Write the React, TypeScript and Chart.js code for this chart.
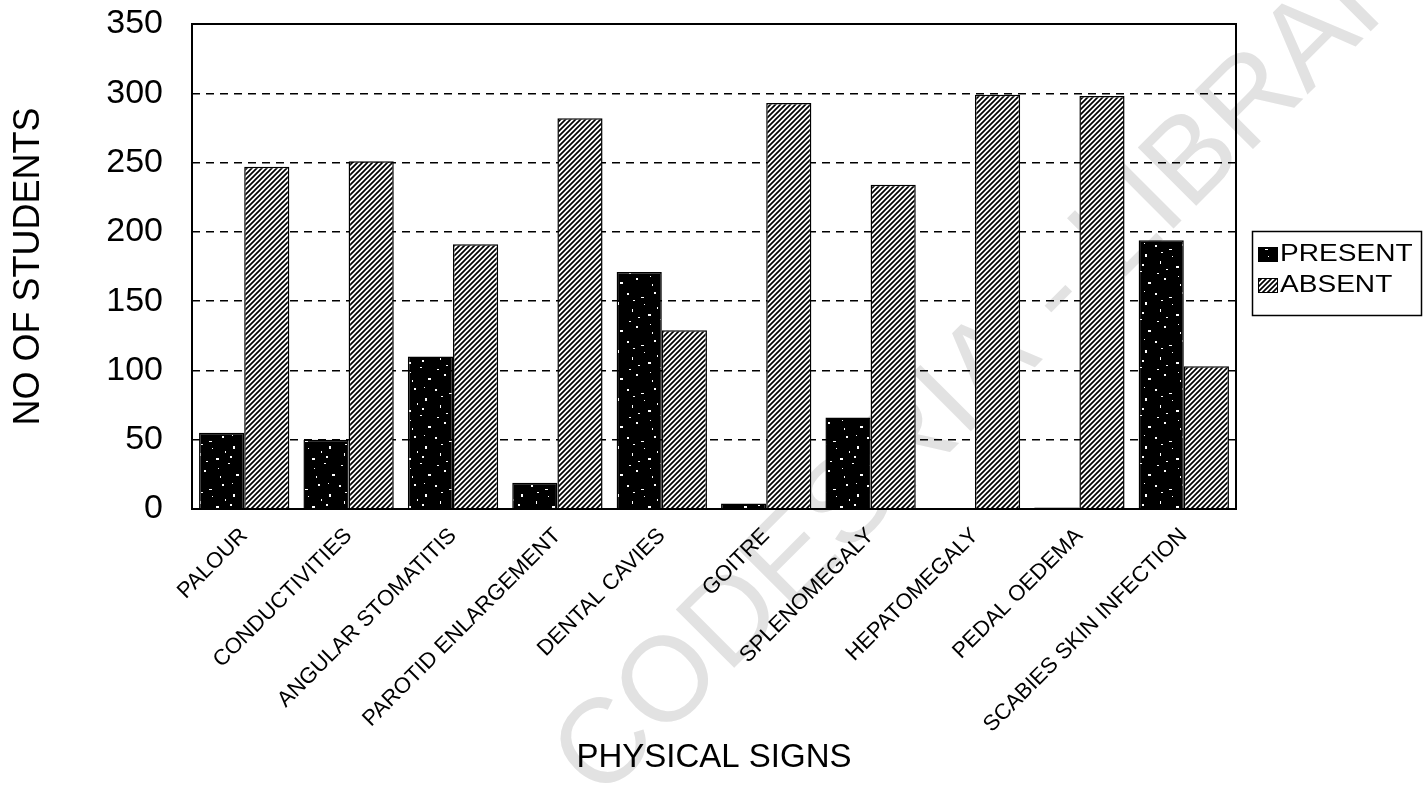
import React, { useEffect, useRef } from "react";
import { Chart, registerables } from "chart.js";

Chart.register(...registerables);

const categories = [
  "PALOUR",
  "CONDUCTIVITIES",
  "ANGULAR STOMATITIS",
  "PAROTID ENLARGEMENT",
  "DENTAL CAVIES",
  "GOITRE",
  "SPLENOMEGALY",
  "HEPATOMEGALY",
  "PEDAL OEDEMA",
  "SCABIES SKIN INFECTION",
];
const presentValues = [55, 50, 110, 19, 171, 4, 66, 0, 1, 194];
const absentValues = [247, 251, 191, 282, 129, 293, 234, 299, 298, 103];
const seriesNames = ["PRESENT", "ABSENT"];
const yAxisTitle = "NO OF STUDENTS";
const xAxisTitle = "PHYSICAL SIGNS";
const watermarkText = "CODESRIA - LIBRARY";
const yMin = 0;
const yMax = 350;
const yStep = 50;

const FONT = "'Liberation Sans', Arial, Helvetica, sans-serif";

// texture specks (white flecks on black fill) - purely decorative texture
const specks: number[][] = [
  [3, 5, 2, 2], [17, 9, 3, 1], [30, 4, 2, 2], [41, 14, 2, 3], [8, 21, 1, 3],
  [24, 26, 3, 2], [36, 31, 2, 1], [12, 38, 2, 2], [44, 42, 3, 2], [28, 44, 1, 2],
  [5, 33, 2, 1], [20, 16, 1, 1], [33, 19, 1, 2], [14, 29, 2, 1], [40, 3, 1, 1],
  [9, 12, 2, 1], [26, 36, 1, 1], [38, 24, 2, 2],
];

function makeHatch(): CanvasPattern {
  const c = document.createElement("canvas");
  c.width = 5;
  c.height = 5;
  const g = c.getContext("2d")!;
  g.fillStyle = "#fff";
  g.fillRect(0, 0, 5, 5);
  g.strokeStyle = "#000";
  g.lineWidth = 1.7;
  g.beginPath();
  g.moveTo(-1, 6);
  g.lineTo(6, -1);
  g.moveTo(-1, 1);
  g.lineTo(1, -1);
  g.moveTo(4, 6);
  g.lineTo(6, 4);
  g.stroke();
  return g.createPattern(c, "repeat")!;
}

function makeSpeckle(): CanvasPattern {
  const c = document.createElement("canvas");
  c.width = 48;
  c.height = 48;
  const g = c.getContext("2d")!;
  g.fillStyle = "#000";
  g.fillRect(0, 0, 48, 48);
  g.fillStyle = "#fff";
  specks.forEach(([x, y, w, h]) => g.fillRect(x, y, w, h));
  return g.createPattern(c, "repeat")!;
}

export default function App() {
  const ref = useRef<HTMLCanvasElement>(null);

  useEffect(() => {
    const canvas = ref.current!;
    const hatch = makeHatch();
    const speckle = makeSpeckle();

    const watermarkPlugin = {
      id: "watermark",
      beforeDraw(chart: any) {
        const ctx = chart.ctx as CanvasRenderingContext2D;
        ctx.save();
        ctx.translate(600, 802);
        ctx.rotate(-Math.PI / 4);
        ctx.font = `120px ${FONT}`;
        ctx.fillStyle = "#e2e2e2";
        ctx.textAlign = "left";
        ctx.textBaseline = "alphabetic";
        ctx.fillText(watermarkText, 0, 0);
        ctx.restore();
      },
    };

    const framePlugin = {
      id: "frame",
      afterDatasetsDraw(chart: any) {
        const { ctx, chartArea } = chart;
        ctx.save();
        ctx.strokeStyle = "#000";
        ctx.lineWidth = 2;
        ctx.setLineDash([]);
        ctx.strokeRect(
          chartArea.left,
          chartArea.top,
          chartArea.right - chartArea.left,
          chartArea.bottom - chartArea.top
        );
        ctx.restore();
      },
    };

    const legendPlugin = {
      id: "customLegend",
      afterDraw(chart: any) {
        const ctx = chart.ctx as CanvasRenderingContext2D;
        const boxX = 1252;
        const boxY = 231;
        const boxW = 169;
        const boxH = 84;
        ctx.save();
        ctx.strokeStyle = "#000";
        ctx.lineWidth = 1.5;
        ctx.strokeRect(boxX + 0.5, boxY + 0.5, boxW, boxH);
        const fills = [speckle, hatch];
        const rows = [254, 285];
        seriesNames.forEach((name, i) => {
          const cy = rows[i];
          ctx.fillStyle = fills[i];
          ctx.fillRect(boxX + 6, cy - 7, 19, 14);
          ctx.lineWidth = 1;
          ctx.strokeRect(boxX + 6.5, cy - 6.5, 19, 14);
          ctx.save();
          ctx.translate(boxX + 28, cy);
          ctx.scale(1.22, 1);
          ctx.font = `23px ${FONT}`;
          ctx.fillStyle = "#000";
          ctx.textAlign = "left";
          ctx.textBaseline = "middle";
          ctx.fillText(name, 0, 1);
          ctx.restore();
        });
        ctx.restore();
      },
    };

    const chart = new Chart(canvas, {
      type: "bar",
      data: {
        labels: categories,
        datasets: [
          {
            label: seriesNames[0],
            data: presentValues,
            backgroundColor: speckle as any,
            borderColor: "#000",
            borderWidth: 1.5,
            categoryPercentage: 0.865,
            barPercentage: 1,
          },
          {
            label: seriesNames[1],
            data: absentValues,
            backgroundColor: hatch as any,
            borderColor: "#000",
            borderWidth: 1.5,
            categoryPercentage: 0.865,
            barPercentage: 1,
          },
        ],
      },
      options: {
        responsive: false,
        animation: false,
        devicePixelRatio: 1,
        font: { family: FONT },
        layout: { padding: { left: 0, top: 24, right: 187, bottom: 0 } },
        plugins: {
          legend: { display: false },
          tooltip: { enabled: false },
        },
        scales: {
          x: {
            grid: { display: false },
            border: { display: false },
            ticks: {
              autoSkip: false,
              maxRotation: 45,
              minRotation: 45,
              padding: 6,
              color: "#000",
              font: { size: 22, family: FONT },
            },
            title: {
              display: true,
              text: xAxisTitle,
              color: "#000",
              font: { size: 33, lineHeight: 1, family: FONT },
              padding: { top: 0, bottom: 20 },
            },
            afterFit: (s: any) => {
              s.height = 285;
              s.paddingLeft = 0;
              s.paddingRight = 0;
            },
          },
          y: {
            min: yMin,
            max: yMax,
            ticks: {
              stepSize: yStep,
              padding: 29,
              color: "#000",
              font: { size: 34, family: FONT },
            },
            grid: { color: "#000", lineWidth: 1.5, drawTicks: false },
            border: { display: false, dash: [8, 6] },
            title: {
              display: true,
              text: yAxisTitle,
              color: "#000",
              font: { size: 36, lineHeight: 1, family: FONT },
              padding: { top: 11, bottom: 0 },
            },
            afterFit: (s: any) => {
              s.width = 192;
              s.paddingTop = 0;
              s.paddingBottom = 0;
            },
          },
        },
      } as any,
      plugins: [watermarkPlugin, framePlugin, legendPlugin],
    });

    return () => chart.destroy();
  }, []);

  return (
    <div style={{ position: "fixed", left: 0, top: 0, width: 1423, height: 794, background: "#fff" }}>
      <canvas ref={ref} width={1423} height={794} style={{ width: 1423, height: 794, display: "block" }} />
    </div>
  );
}
